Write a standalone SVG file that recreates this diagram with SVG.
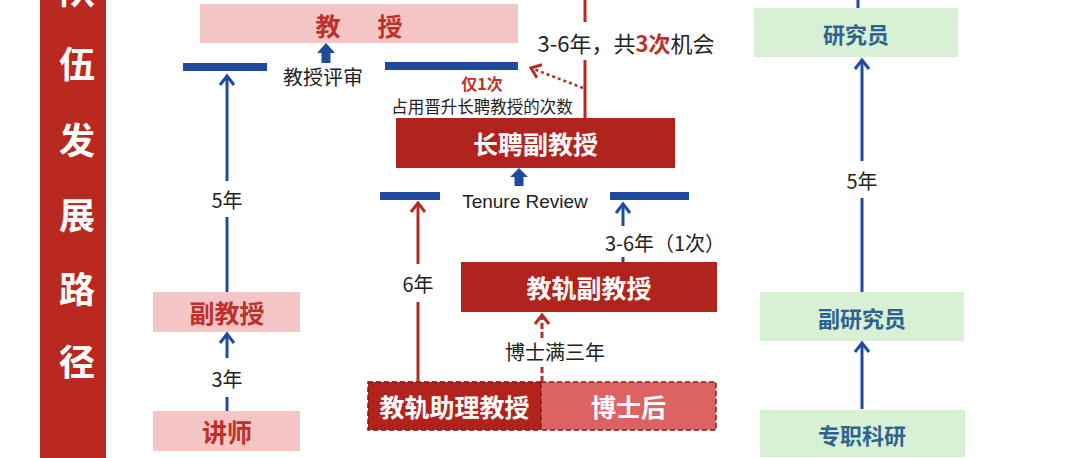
<svg xmlns="http://www.w3.org/2000/svg" width="1078" height="458" viewBox="0 0 1078 458">
<style>
.cjk{font-family:"Noto Sans CJK SC","Noto Sans",sans-serif}
.lbl{font-family:"Noto Sans CJK SC","Noto Sans",sans-serif;font-size:20px;fill:#222;text-anchor:middle;dominant-baseline:central}
.bw{font-family:"Noto Sans CJK SC","Noto Sans",sans-serif;font-weight:700;font-size:25px;fill:#fff;text-anchor:middle;dominant-baseline:central}
.br{font-family:"Noto Sans CJK SC","Noto Sans",sans-serif;font-weight:700;font-size:25px;fill:#c0302a;text-anchor:middle;dominant-baseline:central}
.bg{font-family:"Noto Sans CJK SC","Noto Sans",sans-serif;font-weight:700;font-size:22px;fill:#2e6390;text-anchor:middle;dominant-baseline:central}
.side{font-family:"Noto Sans CJK SC","Noto Sans",sans-serif;font-weight:700;font-size:36px;fill:#fff;text-anchor:middle;dominant-baseline:central}
.pink{fill:#f3c5c5}
.dark{fill:#b3231e}
.green{fill:#d8f0d4}
.bar{fill:#1f4a9e}
.bl{stroke:#1f4a9e;stroke-width:3;fill:none}
.rl{stroke:#b52a25;stroke-width:3;fill:none}
</style>
<defs>
<marker id="ab" markerUnits="userSpaceOnUse" markerWidth="20" markerHeight="20" viewBox="-12 -10 14 20" refX="0" refY="0" orient="auto">
<path d="M-9,-7 L0,0 L-9,7" fill="none" stroke="#1f4a9e" stroke-width="3"/>
</marker>
<marker id="ar" markerUnits="userSpaceOnUse" markerWidth="20" markerHeight="20" viewBox="-12 -10 14 20" refX="0" refY="0" orient="auto">
<path d="M-9,-7 L0,0 L-9,7" fill="none" stroke="#b52a25" stroke-width="3"/>
</marker>
</defs>
<rect width="1078" height="458" fill="#fff"/>
<g id="sidebar">
<rect x="40" y="0" width="66" height="458" fill="#b9291f"/>
<text class="side" x="77" y="-12">队</text>
<text class="side" x="77" y="62">伍</text>
<text class="side" x="77" y="138">发</text>
<text class="side" x="77" y="213">展</text>
<text class="side" x="77" y="287">路</text>
<text class="side" x="77" y="360">径</text>
</g>
<g id="n-prof">
<rect class="pink" x="200" y="4" width="318" height="39"/>
<text class="br"><tspan x="328" y="25">教</tspan><tspan x="390" y="25">授</tspan></text>
</g>
<g id="n-assoc">
<rect class="pink" x="153" y="292" width="147" height="40"/>
<text class="br" x="227" y="312">副教授</text>
</g>
<g id="n-lect">
<rect class="pink" x="153" y="411" width="147" height="40"/>
<text class="br" x="227" y="431">讲师</text>
</g>
<g id="n-tenured">
<rect class="dark" x="396" y="118" width="279" height="50"/>
<text class="bw" x="535.5" y="143">长聘副教授</text>
</g>
<g id="n-track-assoc">
<rect class="dark" x="461" y="262" width="256" height="50"/>
<text class="bw" x="589" y="287">教轨副教授</text>
</g>
<g id="n-track-asst">
<rect x="368" y="382" width="173" height="48" fill="#b3231e" stroke="#7e1512" stroke-width="1.5" stroke-dasharray="5,3"/>
<text class="bw" x="454.5" y="406">教轨助理教授</text>
</g>
<g id="n-postdoc">
<rect x="541" y="382" width="175" height="48" fill="#dd6262" stroke="#8e1a17" stroke-width="1.5" stroke-dasharray="5,3"/>
<text class="bw" x="628.5" y="406">博士后</text>
</g>
<g id="n-researcher">
<rect class="green" x="754" y="8" width="204" height="49"/>
<text class="bg" x="856" y="32.5">研究员</text>
</g>
<g id="n-assoc-researcher">
<rect class="green" x="760" y="292" width="204" height="49"/>
<text class="bg" x="862" y="316.5">副研究员</text>
</g>
<g id="n-fulltime-research">
<rect class="green" x="760" y="410" width="205" height="47"/>
<text class="bg" x="862" y="433.5">专职科研</text>
</g>
<g id="reviews">
<rect class="bar" x="183" y="63" width="84" height="8"/>
<rect class="bar" x="385" y="62" width="133" height="8"/>
<path class="bar" d="M326,43 L335,53 L330.5,53 L330.5,63 L321.5,63 L321.5,53 L317,53 Z"/>
<text class="lbl" x="323" y="76" font-size="21">教授评审</text>
<rect class="bar" x="380" y="192" width="60" height="8"/>
<rect class="bar" x="610" y="192" width="79" height="8"/>
<path class="bar" d="M519,168 L528,177 L523.5,177 L523.5,186 L514.5,186 L514.5,177 L510,177 Z"/>
<text x="525" y="201" font-family="Liberation Sans, Arial, sans-serif" font-size="19" fill="#222" text-anchor="middle" dominant-baseline="central">Tenure Review</text>
</g>
<g id="connectors">
<line class="bl" x1="227" y1="292" x2="227" y2="217"/>
<line class="bl" x1="227" y1="181" x2="227" y2="76" marker-end="url(#ab)"/>
<text class="lbl" x="227" y="199">5年</text>
<line class="bl" x1="227" y1="411" x2="227" y2="397"/>
<line class="bl" x1="227" y1="358" x2="227" y2="334" marker-end="url(#ab)"/>
<text class="lbl" x="227" y="378">3年</text>
<line class="rl" x1="585" y1="0" x2="585" y2="22"/>
<line class="rl" x1="585" y1="60" x2="585" y2="118"/>
<text class="cjk" x="626" y="42" font-size="22" fill="#222" text-anchor="middle" dominant-baseline="central">3-6年，共<tspan fill="#c0302a" font-weight="700">3次</tspan>机会</text>
<line x1="583" y1="88" x2="531" y2="68" stroke="#b52a25" stroke-width="2.5" stroke-dasharray="3,3" marker-end="url(#ar)"/>
<text class="cjk" x="482" y="83" font-size="16" font-weight="700" fill="#c0302a" text-anchor="middle" dominant-baseline="central">仅1次</text>
<text class="cjk" x="482" y="106" font-size="16.5" fill="#222" text-anchor="middle" dominant-baseline="central">占用晋升长聘教授的次数</text>
<line class="rl" x1="418" y1="382" x2="418" y2="302"/>
<line class="rl" x1="418" y1="264" x2="418" y2="203" marker-end="url(#ar)"/>
<text class="lbl" x="418" y="283">6年</text>
<line class="bl" x1="623" y1="226" x2="623" y2="204" marker-end="url(#ab)"/>
<line class="bl" x1="623" y1="257" x2="623" y2="262"/>
<text class="lbl" x="665" y="242">3-6年（1次）</text>
<line class="rl" x1="542" y1="382" x2="542" y2="364" stroke-dasharray="6,3"/>
<line class="rl" x1="542" y1="338" x2="542" y2="315" stroke-dasharray="6,3" marker-end="url(#ar)"/>
<text class="lbl" x="555" y="351">博士满三年</text>
<line class="bl" x1="858" y1="0" x2="858" y2="8"/>
<line class="bl" x1="862" y1="292" x2="862" y2="198"/>
<line class="bl" x1="862" y1="161" x2="862" y2="60" marker-end="url(#ab)"/>
<text class="lbl" x="862" y="180">5年</text>
<line class="bl" x1="862" y1="409" x2="862" y2="343" marker-end="url(#ab)"/>
</g>
</svg>
